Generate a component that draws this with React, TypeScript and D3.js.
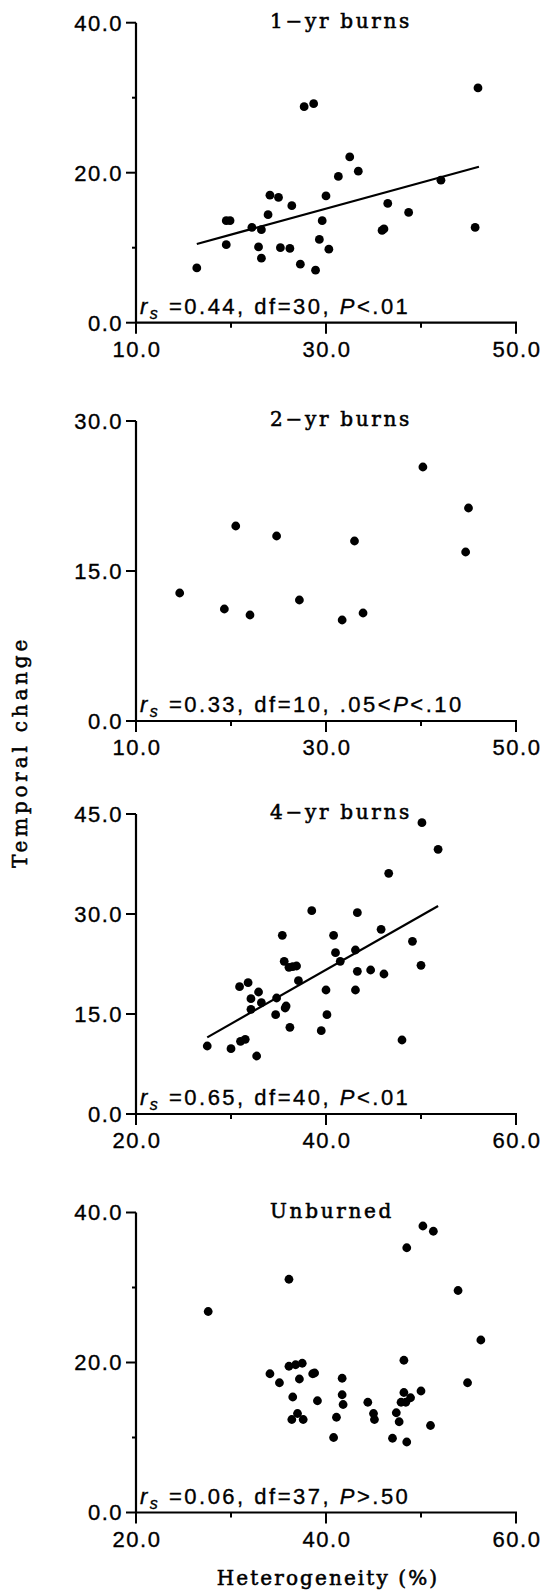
import * as d3 from "d3";

// 1-yr burns
const het1 = [16.4, 19.5, 19.5, 19.9, 22.2, 23.2, 22.9, 23.2, 23.9, 24.1, 25.0, 25.2, 26.2, 26.4, 27.3, 27.7, 28.7, 28.9, 29.3, 29.6, 30.0, 30.3, 31.3, 32.5, 33.4, 35.9, 36.1, 36.5, 38.7, 42.1, 45.7, 46.0];
const change1 = [7.3, 10.4, 13.6, 13.6, 12.7, 12.4, 10.1, 8.6, 14.4, 17.0, 16.7, 10.0, 9.9, 15.6, 7.8, 28.8, 29.2, 7.0, 11.1, 13.6, 16.9, 9.8, 19.5, 22.1, 20.2, 12.3, 12.5, 15.9, 14.7, 19.0, 12.7, 31.3];
const fit1 = [[16.4, 10.5], [46.1, 20.8]];

// 2-yr burns
const het2 = [14.6, 19.3, 20.5, 22.0, 24.8, 27.2, 31.7, 33.0, 33.9, 40.2, 44.7, 45.0];
const change2 = [12.8, 11.2, 19.5, 10.6, 18.5, 12.1, 10.1, 18.0, 10.8, 25.4, 16.9, 21.3];

// 4-yr burns
const het4 = [27.5, 30.0, 30.9, 31.0, 31.5, 31.8, 32.1, 32.1, 32.7, 32.9, 33.2, 34.7, 34.8, 35.4, 35.6, 35.7, 35.8, 36.2, 36.1, 36.5, 36.9, 37.1, 38.5, 39.5, 40.0, 40.1, 40.8, 41.0, 41.5, 43.1, 43.3, 43.3, 43.1, 44.7, 45.8, 46.1, 46.6, 48.0, 49.1, 50.0, 50.1, 51.8];
const change4 = [10.2, 9.8, 19.1, 10.9, 11.2, 19.7, 15.7, 17.3, 8.7, 18.3, 16.7, 14.9, 17.4, 26.8, 22.9, 15.9, 16.2, 13.0, 22.0, 22.1, 22.2, 20.0, 30.5, 12.5, 18.6, 14.9, 26.8, 24.2, 22.9, 24.6, 30.2, 21.4, 18.6, 21.6, 27.7, 21.0, 36.1, 11.1, 25.9, 22.3, 43.7, 39.7];
const fit4 = [[27.5, 11.5], [51.8, 31.2]];

// Unburned
const hetU = [27.6, 34.1, 35.1, 36.1, 36.1, 36.5, 36.4, 36.8, 37.0, 37.2, 37.5, 37.6, 38.6, 38.8, 39.1, 40.8, 41.1, 41.7, 41.7, 41.8, 44.4, 45.0, 45.1, 47.0, 47.4, 47.7, 47.9, 48.2, 48.2, 48.4, 48.5, 48.5, 48.9, 50.0, 50.2, 51.0, 51.3, 53.9, 54.9, 56.3];
const changeU = [26.8, 18.5, 17.3, 31.1, 19.5, 15.4, 12.4, 19.7, 13.2, 17.8, 19.9, 12.4, 18.5, 18.6, 14.9, 10.0, 12.7, 17.9, 15.7, 14.4, 14.7, 13.2, 12.4, 9.9, 13.3, 12.1, 14.7, 20.3, 16.0, 14.7, 35.3, 9.4, 15.3, 16.2, 38.2, 11.6, 37.5, 29.6, 17.3, 23.0];

const titles = ["1\u2212yr burns", "2\u2212yr burns", "4\u2212yr burns", "Unburned"];
const xDomains = [[10, 50], [10, 50], [20, 60], [20, 60]];
const yDomains = [[0, 40], [0, 30], [0, 45], [0, 40]];
const yMajor = [[0, 20, 40], [0, 15, 30], [0, 15, 30, 45], [0, 20, 40]];
const yMinor = [[10, 30], [], [], [10, 30]];
const rsValues = ["0.44", "0.33", "0.65", "0.06"];
const dfValues = ["30", "10", "40", "37"];
const pBefore = ["", ".05<", "", ""];
const pAfter = ["<.01", "<.10", "<.01", ">.50"];

const series = [
  { x: het1, y: change1, fit: fit1 },
  { x: het2, y: change2, fit: null },
  { x: het4, y: change4, fit: fit4 },
  { x: hetU, y: changeU, fit: null },
];

const W = 544;
const H = 1593;
const panelTops = [22.7, 421, 814, 1212.5];
const plotH = 300;
const left = 136;
const right = 516;
const fmt = d3.format(".1f");

const numFont = "'Liberation Sans', Arial, sans-serif";
const serifFont = "'DejaVu Serif', serif";

// heavy "scanned" look
const numInk = { stroke: "#000", strokeWidth: 0.35 };
const serifInk = { stroke: "#000", strokeWidth: 0.55 };

function Panel({ i }: { i: number }) {
  const top = panelTops[i];
  const bottom = top + plotH;
  const x = d3.scaleLinear().domain(xDomains[i]).range([left, right]);
  const y = d3.scaleLinear().domain(yDomains[i]).range([bottom, top]);
  const [x0, x1] = xDomains[i];
  const step = (x1 - x0) / 4;
  const xTicks = d3.range(x0, x1 + 0.001, step);
  const s = series[i];
  const line = d3
    .line<number[]>()
    .x((d) => x(d[0]))
    .y((d) => y(d[1]));

  return (
    <g>
      {/* axes */}
      <line x1={left} x2={left} y1={top} y2={bottom} stroke="#000" strokeWidth={2.2} />
      <line x1={left - 1} x2={right + 1} y1={bottom} y2={bottom} stroke="#000" strokeWidth={2.2} />
      {yMajor[i].map((v) => (
        <g key={"ym" + v}>
          <line x1={left - 10} x2={left} y1={y(v)} y2={y(v)} stroke="#000" strokeWidth={2} />
          <text
            x={123}
            y={y(v)}
            dy="0.36em"
            textAnchor="end"
            fontFamily={numFont}
            fontSize={22}
            letterSpacing={1.5}
            {...numInk}
          >
            {fmt(v)}
          </text>
        </g>
      ))}
      {yMinor[i].map((v) => (
        <line key={"yn" + v} x1={left - 4} x2={left} y1={y(v)} y2={y(v)} stroke="#000" strokeWidth={2} />
      ))}
      {xTicks.map((v, k) => {
        const major = k % 2 === 0;
        return (
          <g key={"xt" + v}>
            <line
              x1={x(v)}
              x2={x(v)}
              y1={bottom}
              y2={bottom + (major ? 11 : 5)}
              stroke="#000"
              strokeWidth={2}
            />
            {major && (
              <text
                x={x(v) + 1}
                y={bottom + 34}
                textAnchor="middle"
                fontFamily={numFont}
                fontSize={22}
                letterSpacing={1.5}
                {...numInk}
              >
                {fmt(v)}
              </text>
            )}
          </g>
        );
      })}

      {/* title */}
      <text
        x={270}
        y={top + 5}
        fontFamily={serifFont}
        fontSize={20}
        letterSpacing={2.7}
        {...serifInk}
      >
        {titles[i]}
      </text>

      {/* points */}
      {s.x.map((v, k) => (
        <circle key={k} cx={x(v)} cy={y(s.y[k])} r={4.4} fill="#000" />
      ))}
      {s.fit && <path d={line(s.fit) || ""} fill="none" stroke="#000" strokeWidth={2.2} />}

      {/* statistics */}
      <text
        x={140}
        y={bottom - 9}
        fontFamily={numFont}
        fontSize={22}
        letterSpacing={2.5}
        {...numInk}
      >
        <tspan fontStyle="italic">r</tspan>
        <tspan fontStyle="italic" fontSize={16} dy={5}>s</tspan>
        <tspan dy={-5}>{` =${rsValues[i]}, df=${dfValues[i]}, ${pBefore[i]}`}</tspan>
        <tspan fontStyle="italic">P</tspan>
        <tspan>{pAfter[i]}</tspan>
      </text>
    </g>
  );
}

export default function App() {
  return (
    <svg
      width={W}
      height={H}
      viewBox={`0 0 ${W} ${H}`}
      style={{ position: "absolute", left: 0, top: 0, background: "#fff" }}
    >
      <rect width={W} height={H} fill="#fff" />
      {titles.map((t, i) => (
        <Panel key={t} i={i} />
      ))}
      <text
        transform="translate(27,752) rotate(-90)"
        textAnchor="middle"
        fontFamily={serifFont}
        fontSize={20}
        letterSpacing={3.8}
        {...serifInk}
      >
        Temporal change
      </text>
      <text
        x={328}
        y={1585}
        textAnchor="middle"
        fontFamily={serifFont}
        fontSize={20}
        letterSpacing={2.1}
        {...serifInk}
      >
        Heterogeneity (%)
      </text>
    </svg>
  );
}
